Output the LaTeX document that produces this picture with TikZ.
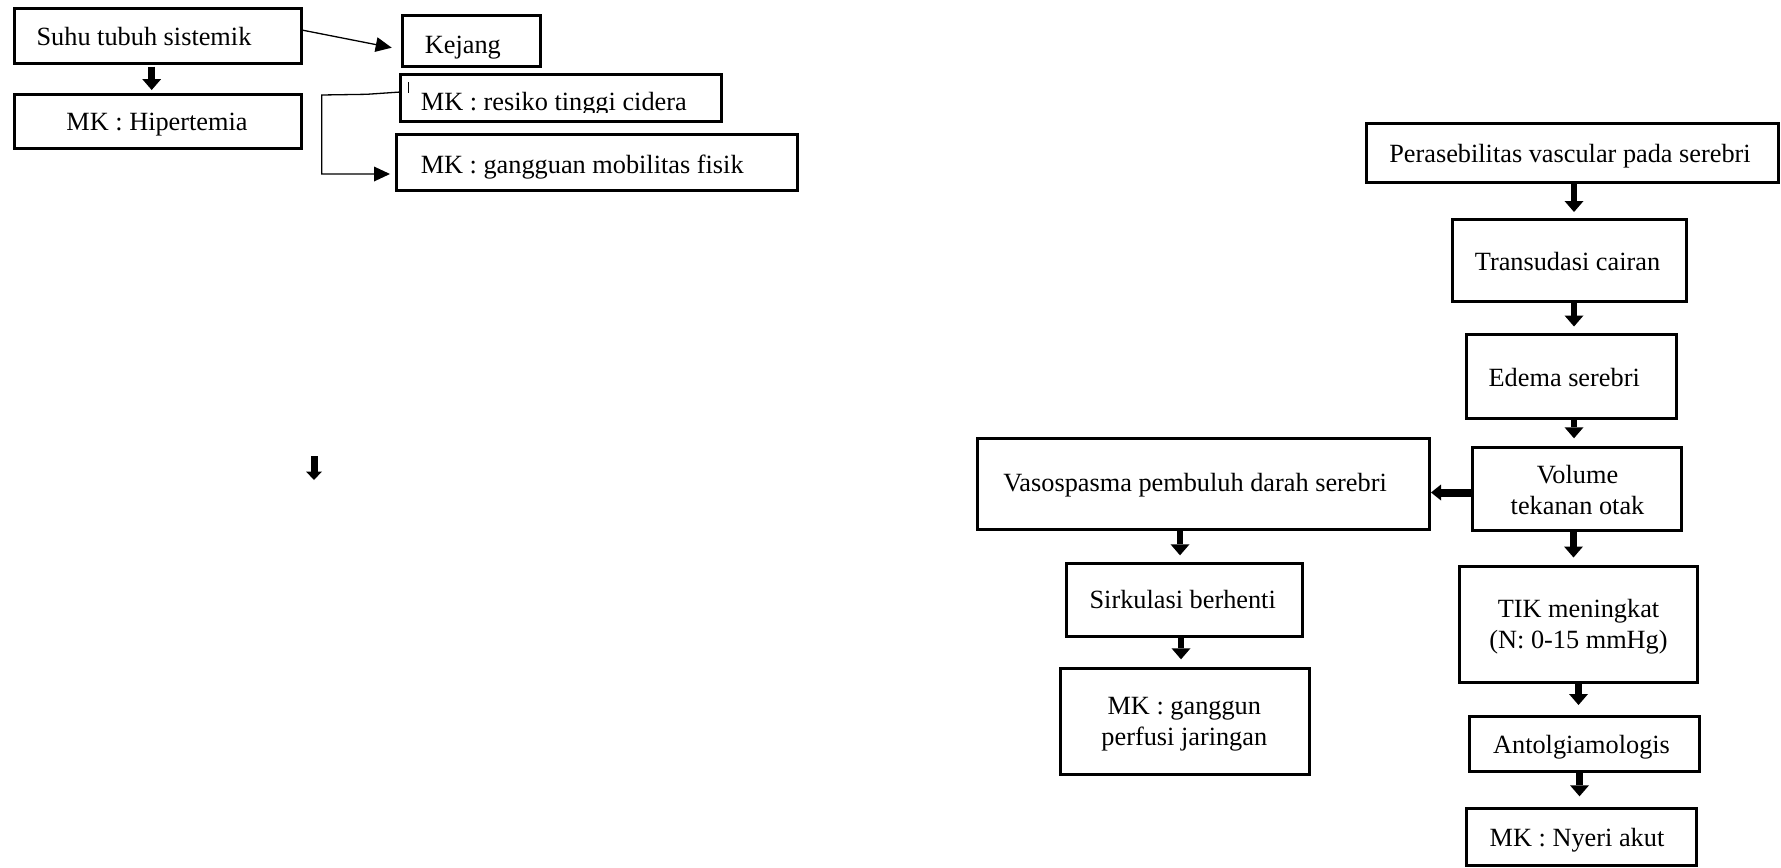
\documentclass[tikz,border=0pt]{standalone}
\usepackage{fontspec}
\setmainfont{Liberation Serif}
\usetikzlibrary{arrows.meta}
\begin{document}
\begin{tikzpicture}[x=0.5pt,y=-0.5pt,
  box/.style={draw,line width=1.5pt,rectangle,inner sep=0pt,outer sep=0pt},
  txt/.style={inner sep=0pt,outer sep=0pt,anchor=base,font=\fontsize{13.15pt}{15.5pt}\selectfont,align=center},
  blk/.style={line width=3.25pt,-{Triangle[length=5.5pt,width=9.5pt,line width=0pt]}},
  blkh/.style={line width=4pt,-{Triangle[length=5pt,width=8pt,line width=0pt]}},
  thinarrow/.style={line width=0.65pt,-{Triangle[length=8pt,width=7.5pt,line width=0pt]}}]
\useasboundingbox (0,0) rectangle (1781,867);

% ---------- left group ----------
\node[box,minimum width=143.85pt,minimum height=27.5pt] (suhu) at (157.85,35.8) {};
\node[box,minimum width=143.85pt,minimum height=27.15pt] (hiper) at (157.85,121.15) {};
\node[box,minimum width=69pt,minimum height=25.85pt] (kejang) at (471.7,40.85) {};
\node[box,minimum width=160.4pt,minimum height=23.3pt] (resiko) at (560.9,98) {};
\node[box,minimum width=200.3pt,minimum height=28.4pt] (mobil) at (597,162.5) {};

\node[txt] (tsuhu) at (144,45) {Suhu tubuh sistemik};
\node[txt] (thiper) at (157,130) {MK : Hipertemia};
\node[txt] (tkejang) at (462.9,53) {Kejang};
\begin{scope}
  \clip (402,76) rectangle (719,112.5);
  \node[txt] (tresiko) at (553.8,110) {MK : resiko tinggi cidera};
\end{scope}
\node[txt] (tmobil) at (582.2,173.3) {MK : gangguan mobilitas fisik};
\draw[line width=0.6pt] (408.3,82) -- (408.3,93);

\coordinate (kejtip) at (391.7,47.7);
\draw[thinarrow] ([yshift=2.9pt]suhu.east) -- (kejtip);
\draw[blk,shorten <=1.7pt,shorten >=2pt] (suhu.south -| 151.7,0) -- (hiper.north -| 151.7,0);

\coordinate (b1) at (366.7,94.3);
\coordinate (b2) at (321.7,95);
\coordinate (b3) at (321.7,174);
\coordinate (mobtip) at (390,174);
\draw[thinarrow] ([yshift=3pt]resiko.west) -- (b1) -- (b2) -- (b3) -- (mobtip);

% lone arrow
\coordinate (la1) at (314,456);
\coordinate (la2) at (314,480);
\draw[line width=3.5pt,-{Triangle[length=4.25pt,width=8pt,line width=0pt]}] (la1) -- (la2);

% ---------- right group ----------
\node[box,minimum width=205.75pt,minimum height=29.5pt] (pera) at (1572.25,152.5) {};
\node[box,minimum width=117.25pt,minimum height=41.25pt] (trans) at (1569.25,260.25) {};
\node[box,minimum width=105pt,minimum height=41.75pt] (edema) at (1571.5,376.25) {};
\node[box,minimum width=104.7pt,minimum height=41.7pt] (volume) at (1577,489) {};
\node[box,minimum width=225.6pt,minimum height=45.3pt] (vaso) at (1203.4,484) {};
\node[box,minimum width=119pt,minimum height=58pt] (tik) at (1578,624.5) {};
\node[box,minimum width=114.9pt,minimum height=27.5pt] (antol) at (1584.5,743.5) {};
\node[box,minimum width=115.15pt,minimum height=28.35pt] (nyeri) at (1581.5,836.65) {};
\node[box,minimum width=118.05pt,minimum height=36.7pt] (sirk) at (1184.75,600) {};
\node[box,minimum width=124.5pt,minimum height=52.85pt] (gang) at (1184.5,721.15) {};

\node[txt] (tpera) at (1570,162.7) {Perasebilitas vascular pada serebri};
\node[txt] (ttrans) at (1567.5,270) {Transudasi cairan};
\node[txt] (tedema) at (1564.2,386) {Edema serebri};
\node[txt] (tvol) at (1577.5,514) {Volume\\tekanan otak};
\node[txt] (tvaso) at (1195.1,491.7) {Vasospasma pembuluh darah serebri};
\node[txt] (ttik) at (1578.5,648.3) {TIK meningkat\\(N: 0-15 mmHg)};
\node[txt] (tantol) at (1581.5,753.3) {Antolgiamologis};
\node[txt] (tnyeri) at (1577,846.7) {MK : Nyeri akut};
\node[txt] (tsirk) at (1182.7,608.3) {Sirkulasi berhenti};
\node[txt] (tgang) at (1184.3,745) {MK : ganggun\\perfusi jaringan};

\draw[blk,shorten >=3.5pt] (pera.south -| 1574,0) -- (trans.north -| 1574,0);
\draw[blk,shorten >=4pt] (trans.south -| 1574,0) -- (edema.north -| 1574,0);
\draw[blk,shorten >=4.5pt] (edema.south -| 1574,0) -- (volume.north -| 1574,0);
\draw[blk,shorten >=4.5pt] (volume.south -| 1573.5,0) -- (tik.north -| 1573.5,0);
\draw[blk,shorten >=5.5pt] (tik.south -| 1578.5,0) -- (antol.north -| 1578.5,0);
\draw[blk,shorten >=6pt] (antol.south -| 1579.5,0) -- (nyeri.north -| 1579.5,0);
\draw[blk,shorten >=4pt] (vaso.south -| 1180,0) -- (sirk.north -| 1180,0);
\draw[blk,shorten >=4.5pt] (sirk.south -| 1181,0) -- (gang.north -| 1181,0);
\draw[blkh,shorten >=1pt] (volume.west |- 0,492.5) -- (vaso.east |- 0,492.5);
\end{tikzpicture}
\end{document}
